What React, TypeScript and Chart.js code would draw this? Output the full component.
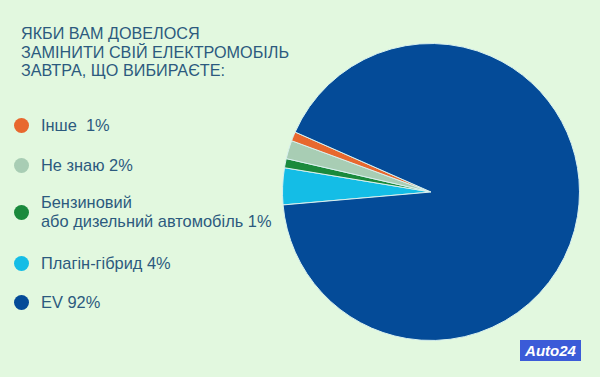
import React, { useEffect, useRef } from "react";
import { Chart, registerables } from "chart.js";

Chart.register(...registerables);

const titleLines = ["ЯКБИ ВАМ ДОВЕЛОСЯ", "ЗАМІНИТИ СВІЙ ЕЛЕКТРОМОБІЛЬ", "ЗАВТРА, ЩО ВИБИРАЄТЕ:"];

// legend order (top to bottom)
const legendLabels: string[][] = [
  ["Інше  1%"],
  ["Не знаю 2%"],
  ["Бензиновий", "або дизельний автомобіль 1%"],
  ["Плагін-гібрид 4%"],
  ["EV 92%"],
];
const legendColors = ["#e8682e", "#a8cdb4", "#1a8a3c", "#14bde6", "#044b98"];
const legendRowY = [125, 165, 212, 263, 302];

// pie slices (clockwise from start)
const sliceLabels = ["Плагін-гібрид", "Бензиновий або дизельний автомобіль", "Не знаю", "Інше", "EV"];
const sliceValues = [4, 1, 2, 1, 92];
const sliceColors = ["#14bde6", "#1a8a3c", "#a8cdb4", "#e8682e", "#044b98"];

const textColor = "#2c5a7e";
const font = "'Liberation Sans', Arial, sans-serif";

export default function App() {
  const ref = useRef<HTMLCanvasElement | null>(null);

  useEffect(() => {
    document.body.style.margin = "0";
    if (!ref.current) return;
    const chart = new Chart(ref.current, {
      type: "pie",
      data: {
        labels: sliceLabels,
        datasets: [
          {
            data: sliceValues,
            backgroundColor: sliceColors,
            borderColor: "#d8f0ee",
            borderWidth: 1,
          },
        ],
      },
      options: {
        animation: false,
        responsive: false,
        maintainAspectRatio: false,
        rotation: 265,
        layout: { padding: 0 },
        plugins: {
          legend: { display: false },
          tooltip: { enabled: false },
          title: { display: false },
        },
      },
    });
    return () => chart.destroy();
  }, []);

  return (
    <div
      style={{
        position: "fixed",
        left: 0,
        top: 0,
        width: 600,
        height: 377,
        background: "#e2f8df",
        overflow: "hidden",
        fontFamily: font,
      }}
    >
      <div
        style={{
          position: "absolute",
          left: 21,
          top: 24,
          color: textColor,
          fontSize: 16.2,
          lineHeight: "18.7px",
        }}
      >
        {titleLines.map((t, i) => (
          <div key={i}>{t}</div>
        ))}
      </div>
      {legendLabels.map((lines, i) => (
        <div key={i}>
          <div
            style={{
              position: "absolute",
              left: 14,
              top: legendRowY[i] - 7,
              width: 15,
              height: 15,
              borderRadius: "50%",
              background: legendColors[i],
            }}
          />
          <div
            style={{
              position: "absolute",
              left: 41,
              top: legendRowY[i] - (lines.length * 19) / 2,
              color: textColor,
              fontSize: 16.4,
              lineHeight: "19px",
              whiteSpace: "nowrap",
            }}
          >
            {lines.map((l, j) => (
              <div key={j} style={{ whiteSpace: "pre" }}>{l}</div>
            ))}
          </div>
        </div>
      ))}
      <canvas
        ref={ref}
        width={298}
        height={298}
        style={{ position: "absolute", left: 282, top: 43, width: 298, height: 298 }}
      />
      <div
        style={{
          position: "absolute",
          left: 520,
          top: 340,
          width: 61,
          height: 21,
          background: "#3b5bd8",
          color: "#ffffff",
          fontWeight: "bold",
          fontStyle: "italic",
          fontSize: 15,
          lineHeight: "21px",
          textAlign: "center",
        }}
      >
        Auto24
      </div>
    </div>
  );
}
